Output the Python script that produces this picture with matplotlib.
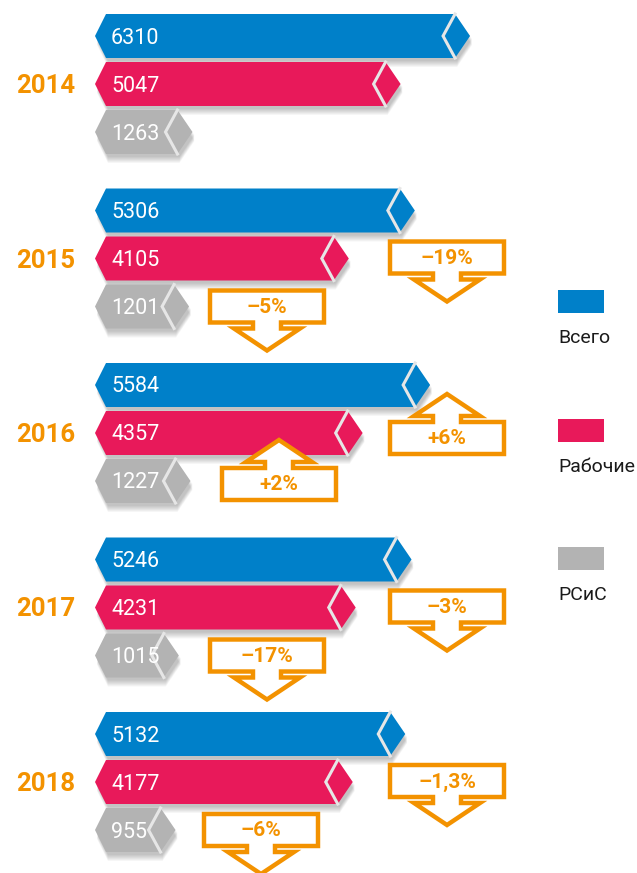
import matplotlib.pyplot as plt
from matplotlib.patches import Polygon, Rectangle

plt.rcParams['font.family'] = ['Roboto', 'DejaVu Sans']

years = ['2014', '2015', '2016', '2017', '2018']
total = [6310, 5306, 5584, 5246, 5132]
workers = [5047, 4105, 4357, 4231, 4177]
rsis = [1263, 1201, 1227, 1015, 955]
workers_change = [None, '–19%', '+6%', '–3%', '–1,3%']
rsis_change = [None, '–5%', '+2%', '–17%', '–6%']
series_names = ['Всего', 'Рабочие', 'РСиС']

blue = '#0080C9'
red = '#E8195A'
gray = '#B3B3B3'
orange = '#F39200'

# layout in pixels
X0 = 95
SCALE = 0.055
OFFSET = 28
BAR_H = 44
GAP = 4
TOP0 = 14
PITCH = 174.5
left_box_x = [None, 210, 222, 210, 204]
RIGHT_BOX_X = 390
BOX_W, BOX_H = 114, 32

fig = plt.figure(figsize=(6.37, 8.73), dpi=100)
ax = fig.add_axes([0, 0, 1, 1])
ax.set_xlim(0, 637)
ax.set_ylim(873, 0)
ax.axis('off')


def bar(top, value, color, label):
    xt = X0 + OFFSET + value * SCALE
    bot = top + BAR_H
    c = top + BAR_H / 2
    pts = [(X0, c), (X0 + 11, top), (xt - 15, top), (xt, c), (xt - 15, bot), (X0 + 11, bot)]
    # soft shadow
    for k in range(7):
        sh = [(x + 2, y + 3 + k) for x, y in pts]
        ax.add_patch(Polygon(sh, closed=True, fc='black', ec='none', alpha=0.035, zorder=1))
    ax.add_patch(Polygon(pts, closed=True, fc=color, ec='none', zorder=2))
    ax.plot([xt - 15, xt - 27, xt - 15], [top, c, bot], color='#e6e6e6', lw=2.2,
            zorder=3, solid_joinstyle='miter')
    ax.text(X0 + 16, c + 2, str(label), color='white', fontsize=15.5,
            va='center', ha='left', zorder=4)


def arrow(x, top, text, up):
    w, h = BOX_W, BOX_H
    cx = x + w / 2
    bot = top + h
    sw, hw, sl, hl = 14, 33, 6, 22
    if up:
        pts = [(x, bot), (x + w, bot), (x + w, top), (cx + sw, top), (cx + sw, top - sl),
               (cx + hw, top - sl), (cx, top - sl - hl), (cx - hw, top - sl),
               (cx - sw, top - sl), (cx - sw, top), (x, top)]
    else:
        pts = [(x, top), (x + w, top), (x + w, bot), (cx + sw, bot), (cx + sw, bot + sl),
               (cx + hw, bot + sl), (cx, bot + sl + hl), (cx - hw, bot + sl),
               (cx - sw, bot + sl), (cx - sw, bot), (x, bot)]
    ax.add_patch(Polygon(pts, closed=True, fc='white', ec=orange, lw=3.2,
                         joinstyle='miter', zorder=5))
    ax.text(cx, top + h / 2 + 1, text, color=orange, fontsize=15, fontweight='bold',
            ha='center', va='center', zorder=6)


for i, yr in enumerate(years):
    t = TOP0 + i * PITCH
    bar(t, total[i], blue, total[i])
    bar(t + BAR_H + GAP, workers[i], red, workers[i])
    bar(t + 2 * (BAR_H + GAP), rsis[i], gray, rsis[i])
    ax.text(46, t + BAR_H + GAP + BAR_H / 2 + 2, yr, color=orange, fontsize=18.5,
            fontweight='bold', ha='center', va='center')
    if workers_change[i]:
        up = workers_change[i].startswith('+')
        arrow(RIGHT_BOX_X, t + (59 if up else 53), workers_change[i], up)
    if rsis_change[i]:
        up = rsis_change[i].startswith('+')
        arrow(left_box_x[i], t + (105 if up else 102), rsis_change[i], up)

# legend
for name, col, y in zip(series_names, [blue, red, gray], [290, 419, 547]):
    ax.add_patch(Rectangle((558, y), 46, 23, fc=col, ec='none'))
    ax.text(558, y + 48, name, color='#1a1a1a', fontsize=14, ha='left', va='center')

fig.savefig('out.png', dpi=100)
